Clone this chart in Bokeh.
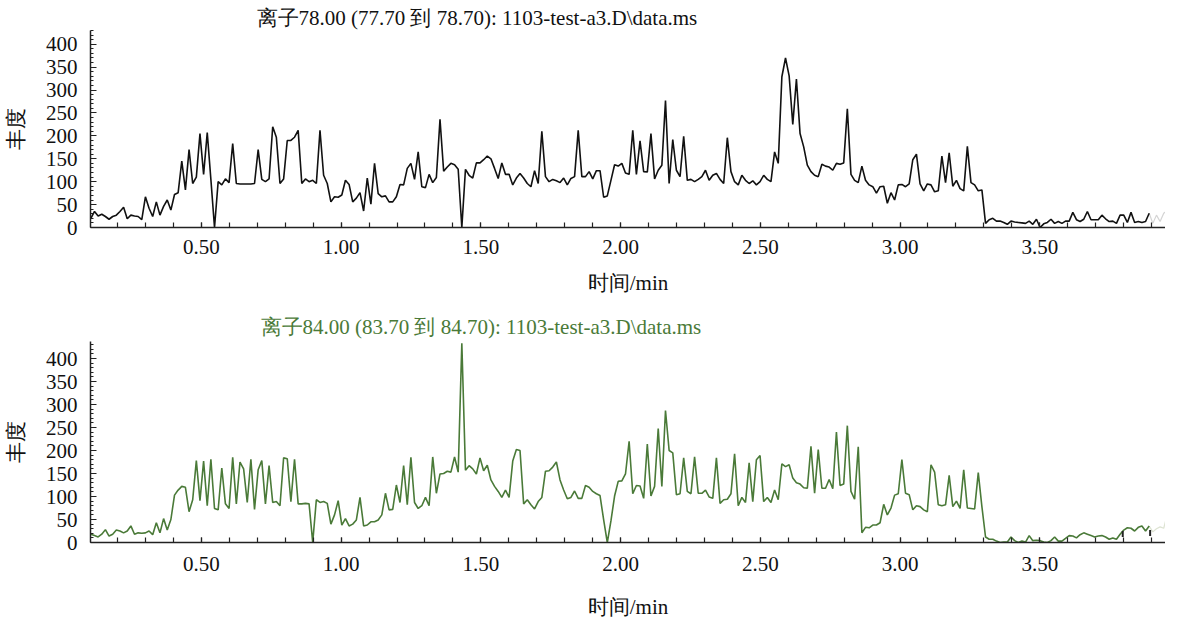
from bokeh.plotting import figure
from bokeh.layouts import column
from bokeh.models import Range1d, SingleIntervalTicker, NumeralTickFormatter, Title
from bokeh.embed import file_html
from bokeh.resources import INLINE

# ---- sampling (scan grid, minutes) ----
T0 = 0.1043
DT = 0.013015
X_START, X_END = 0.103, 3.950

TITLE_78 = "离子78.00 (77.70 到 78.70): 1103-test-a3.D\\data.ms"
TITLE_84 = "离子84.00 (83.70 到 84.70): 1103-test-a3.D\\data.ms"
X_LABEL = "时间/min"
Y_LABEL = "丰度"

# ---- ion 78 abundance ----
ion78_a = [20, 35, 25, 29, 24, 18, 24, 27, 35, 44,
           19, 27, 25, 24, 17, 67, 42, 24, 56, 27,
           46, 60, 38, 72, 76, 145, 82, 170, 96, 110,
           205, 116, 207, 105, 0, 100, 93, 106, 98, 183,
           96, 95, 95, 95, 95, 96, 170, 105, 100, 106,
           220, 197, 96, 106, 190, 190, 197, 212, 96, 106,
           100, 103, 96, 212, 114, 96, 56, 67, 66, 71,
           103, 94, 56, 64, 76, 36, 108, 51, 140, 74,
           67, 69, 56, 56]
ion78_b = [67, 94, 93, 129, 140, 105, 165, 89, 87, 116,
           98, 109, 236, 123, 132, 140, 137, 127, 0, 127,
           114, 108, 141, 141, 148, 156, 150, 129, 107, 141,
           116, 116, 93, 108, 118, 108, 96, 89, 124, 96,
           210, 111, 100, 105, 102, 98, 108, 93, 107, 111,
           212, 111, 111, 122, 106, 124, 124, 66, 69, 103,
           137, 134, 140, 119, 116, 212, 116, 189, 122, 121,
           205, 106, 125, 136, 277, 96, 192, 125, 111, 199,
           103, 105, 100, 105, 111, 125, 103, 114, 118, 105,
           96, 196, 122, 100, 93, 114, 103, 96, 102, 93,
           100, 114, 105, 100]
ion78_c = [165, 140, 329, 370, 331, 225, 324, 205, 176, 136,
           122, 114, 111, 138, 134, 132, 125, 140, 138, 141,
           259, 116, 103, 98, 134, 103, 93, 89, 75, 89,
           90, 53, 76, 60, 93, 94, 89, 95, 148, 160,
           95, 80, 95, 93, 78, 80, 156, 98, 163, 90,
           103, 85, 80, 177, 98, 93, 80, 82, 9, 17,
           20, 14, 14, 11, 7, 14, 12, 11, 10, 9,
           14, 7, 18, 0, 8, 11, 18, 9, 13, 9,
           14, 14, 33, 17, 13, 18, 35, 17, 17, 17,
           27, 19, 13, 14, 9, 27, 27, 11, 33, 11,
           13, 11, 13, 31]
ion78_tail = [31, 9, 27, 13, 31, 38]

# ---- ion 84 abundance ----
ion84_a = [18, 15, 12, 18, 28, 14, 18, 27, 25, 21,
           25, 36, 18, 21, 20, 21, 25, 17, 43, 21,
           52, 27, 50, 103, 114, 122, 120, 67, 93, 178,
           91, 177, 80, 181, 74, 71, 162, 84, 74, 185,
           84, 175, 160, 87, 181, 72, 158, 178, 84, 167,
           87, 89, 80, 184, 182, 89, 181, 84, 84, 85,
           84, 0, 93, 87, 89, 85, 40, 60, 91, 38,
           52, 36, 40, 49, 98, 36, 38, 45, 45, 49,
           60, 107, 71, 72]
ion84_b = [125, 87, 167, 82, 185, 87, 74, 80, 98, 80,
           186, 107, 149, 150, 155, 153, 186, 153, 433, 157,
           167, 160, 149, 184, 156, 168, 136, 122, 111, 98,
           114, 98, 177, 202, 200, 84, 93, 82, 73, 89,
           98, 155, 156, 164, 175, 136, 114, 95, 98, 112,
           96, 96, 124, 120, 111, 106, 102, 49, 0, 47,
           101, 133, 134, 149, 220, 106, 124, 123, 96, 214,
           101, 122, 248, 122, 287, 200, 195, 104, 106, 184,
           111, 106, 186, 107, 107, 114, 99, 96, 184, 85,
           93, 94, 106, 193, 80, 98, 87, 173, 89, 180,
           189, 89, 98, 87]
ion84_c = [114, 93, 171, 165, 169, 140, 130, 127, 119, 118,
           209, 107, 202, 118, 118, 137, 117, 240, 124, 127,
           254, 111, 94, 208, 21, 33, 32, 38, 38, 43,
           83, 60, 75, 103, 106, 180, 107, 104, 71, 80,
           78, 71, 67, 169, 153, 82, 80, 82, 146, 78,
           90, 74, 158, 75, 74, 73, 152, 78, 12, 7,
           7, 3, 0, 1, 1, 12, 4, 0, 3, 1,
           15, 4, 5, 4, 1, 0, 4, 12, 3, 3,
           9, 15, 14, 10, 17, 21, 18, 15, 12, 14,
           15, 12, 7, 10, 7, 18, 27, 32, 31, 25,
           33, 36, 25, 36]
ion84_tail = [36, 23, 30, 34, 31, 63]

# integration event marks on ion 84 trace (time, low, high)
mark84_t = [3.797, 3.895]
mark84_lo = [12, 14]
mark84_hi = [25, 27]

ion78 = ion78_a + ion78_b + ion78_c
ion84 = ion84_a + ion84_b + ion84_c
times = [T0 + i * DT for i in range(len(ion78))]
tail_times = [times[-1] + i * DT for i in range(len(ion78_tail))]

SERIF = "Liberation Serif"


def make_fig(title, title_color, title_offset, title_standoff, vals, tail,
             color, tail_color, y_top, height, border_top, border_bottom,
             label_standoff, xlabel_standoff):
    p = figure(width=1165, height=height, output_backend="svg",
               toolbar_location=None,
               x_range=Range1d(X_START, X_END), y_range=Range1d(0, y_top),
               min_border_left=84, min_border_right=0,
               min_border_top=border_top, min_border_bottom=border_bottom)
    p.title = Title(text=title, align="left", offset=title_offset,
                    standoff=title_standoff,
                    text_font=SERIF, text_font_size="21px",
                    text_font_style="normal", text_color=title_color)
    p.outline_line_color = None
    p.xgrid.visible = False
    p.ygrid.visible = False
    p.background_fill_color = "white"
    p.border_fill_color = "white"

    p.line(tail_times, tail, line_color=tail_color, line_width=1.2)
    p.line(times, vals, line_color=color, line_width=1.6)

    xa = p.xaxis[0]
    xa.ticker = SingleIntervalTicker(interval=0.5, num_minor_ticks=5)
    xa.formatter = NumeralTickFormatter(format="0.00")
    xa.major_tick_in = 5
    xa.major_tick_out = 0
    xa.minor_tick_in = 5
    xa.minor_tick_out = 0
    xa.axis_line_width = 1.5
    xa.axis_line_color = "#222222"
    xa.major_tick_line_color = "#222222"
    xa.minor_tick_line_color = "#222222"
    xa.major_tick_line_width = 1.2
    xa.minor_tick_line_width = 1.2
    xa.major_label_standoff = label_standoff
    xa.major_label_text_font = SERIF
    xa.major_label_text_font_size = "21px"
    xa.major_label_text_color = "#111111"
    xa.axis_label = X_LABEL
    xa.axis_label_text_font = SERIF
    xa.axis_label_text_font_size = "21px"
    xa.axis_label_text_font_style = "normal"
    xa.axis_label_text_color = "#111111"
    xa.axis_label_standoff = xlabel_standoff

    ya = p.yaxis[0]
    ya.ticker = SingleIntervalTicker(interval=50, num_minor_ticks=5)
    ya.major_tick_in = 6
    ya.major_tick_out = 0
    ya.minor_tick_in = 3
    ya.minor_tick_out = 0
    ya.axis_line_width = 1.5
    ya.axis_line_color = "#222222"
    ya.major_tick_line_color = "#222222"
    ya.minor_tick_line_color = "#222222"
    ya.major_label_standoff = 13
    ya.major_label_text_font = SERIF
    ya.major_label_text_font_size = "21px"
    ya.major_label_text_color = "#111111"
    ya.axis_label = Y_LABEL
    ya.axis_label_text_font = SERIF
    ya.axis_label_text_font_size = "21px"
    ya.axis_label_text_font_style = "normal"
    ya.axis_label_text_color = "#111111"
    ya.axis_label_standoff = 15
    return p


p1 = make_fig(TITLE_78, "#111111", 166, 1, ion78, ion78_tail, "#111111",
              "#d4d4d4", 430, 309, 30, 82, 12, 14)
p2 = make_fig(TITLE_84, "#4a7a38", 170, 6, ion84, ion84_tail, "#4a7a38",
              "#dde3d2", 437, 312, 26, 63, 14, 21)
p2.segment(mark84_t, mark84_lo, mark84_t, mark84_hi, line_color="#222222",
           line_width=2)

layout = column(p1, p2)
open("out.html", "w").write(file_html(layout, INLINE))
